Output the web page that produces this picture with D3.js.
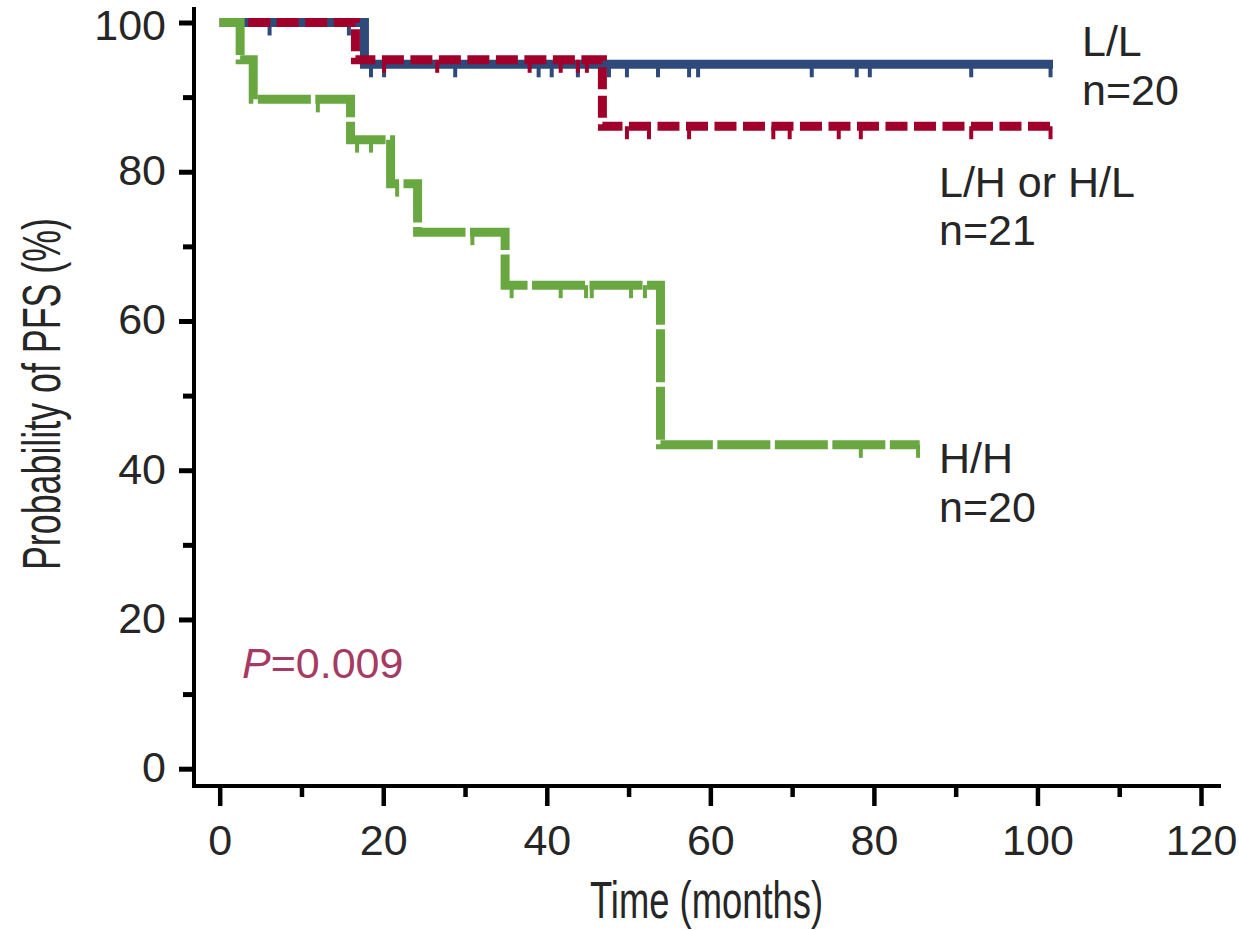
<!DOCTYPE html>
<html><head><meta charset="utf-8">
<script src="https://cdn.jsdelivr.net/npm/d3@7"></script>
<style>body{margin:0;background:#fff}svg{display:block}</style>
</head><body>
<script>
// ---- data ----
const xTicks = [0, 20, 40, 60, 80, 100, 120];
const xMinorTicks = [10, 30, 50, 70, 90, 110];
const yTicks = [0, 20, 40, 60, 80, 100];
const yMinorTicks = [10, 30, 50, 70, 90];

const seriesNames = ["L/L", "L/H or H/L", "H/H"];
const seriesN = ["n=20", "n=21", "n=20"];

// L/L (blue)
const llTimes = [0, 17.7, 101.9];
const llSurv = [100, 94.4, 94.4];
const llCensor = [6.1, 15.8, 18.5, 20.1, 28.8, 39.0, 40.6, 43.8, 47.6, 49.8, 53.6, 57.4, 58.5, 72.4, 77.9, 79.5, 91.9, 101.6];

// L/H or H/L (red)
const mixTimes = [0, 16.6, 46.8, 101.9];
const mixSurv = [100, 95.0, 86.1, 86.1];
const mixCensor = [20.1, 26.6, 37.9, 41.7, 43.8, 44.9, 49.8, 52.5, 57.4, 67.7, 69.7, 75.7, 78.4, 91.9, 101.6];

// H/H (green)
const hhTimes = [0, 2.5, 4.1, 16.0, 20.9, 24.2, 34.9, 53.9, 85.6];
const hhSurv = [100, 95.0, 89.7, 84.3, 78.4, 71.9, 64.8, 43.4, 43.4];
const hhCensor = [12.0, 16.8, 18.5, 21.7, 30.9, 35.7, 41.7, 44.8, 45.5, 50.3, 52.0, 78.4, 85.4];

const pValue = "0.009";
const xTitle = "Time (months)";
const yTitle = "Probability of PFS (%)";

// ---- drawing ----
const W = 1239, H = 930;
const FONT = "'Liberation Sans', Arial, Helvetica, sans-serif";
const TEXT = "#262626";
const svg = d3.select("body").append("svg").attr("width", W).attr("height", H)
  .style("background", "#fff");

const x = d3.scaleLinear().domain([0, 120]).range([219.7, 1201]);
const y = d3.scaleLinear().domain([0, 100]).range([768.7, 22.5]);

const axisX = 786, axisY = 194;

// y axis
const gy = svg.append("g").attr("transform", `translate(${axisY},0)`);
gy.call(d3.axisLeft(y).tickValues(yTicks).tickSize(15).tickPadding(13).tickSizeOuter(0));
gy.select(".domain").remove();
gy.selectAll(".tick line").attr("stroke", "#000").attr("stroke-width", 5);
gy.selectAll(".tick text").attr("font-size", 43).attr("font-family", FONT)
  .attr("fill", TEXT).attr("dy", d => d === 100 ? "0.4em" : "0.3em");
const gym = svg.append("g").attr("transform", `translate(${axisY},0)`);
gym.call(d3.axisLeft(y).tickValues(yMinorTicks).tickSize(11).tickFormat("").tickSizeOuter(0));
gym.select(".domain").remove();
gym.selectAll(".tick line").attr("stroke", "#000").attr("stroke-width", 5);

// x axis
const gx = svg.append("g").attr("transform", `translate(0,${axisX})`);
gx.call(d3.axisBottom(x).tickValues(xTicks).tickSize(20).tickSizeOuter(0));
gx.select(".domain").remove();
gx.selectAll(".tick line").attr("stroke", "#000").attr("stroke-width", 4.5);
gx.selectAll(".tick text").attr("font-size", 43).attr("font-family", FONT)
  .attr("fill", TEXT).attr("y", 69).attr("dy", 0);
const gxm = svg.append("g").attr("transform", `translate(0,${axisX})`);
gxm.call(d3.axisBottom(x).tickValues(xMinorTicks).tickSize(11).tickFormat("").tickSizeOuter(0));
gxm.select(".domain").remove();
gxm.selectAll(".tick line").attr("stroke", "#000").attr("stroke-width", 4.5);

// axis lines
svg.append("line").attr("x1", axisY).attr("x2", axisY).attr("y1", 7).attr("y2", axisX + 2)
  .attr("stroke", "#000").attr("stroke-width", 4);
svg.append("line").attr("x1", axisY - 2).attr("x2", 1221).attr("y1", axisX).attr("y2", axisX)
  .attr("stroke", "#000").attr("stroke-width", 4);

// titles
svg.append("text").attr("x", 706.5).attr("y", 918).attr("text-anchor", "middle")
  .attr("font-family", FONT).attr("font-size", 52).attr("fill", TEXT)
  .attr("textLength", 233).attr("lengthAdjust", "spacingAndGlyphs").text(xTitle);
svg.append("text").attr("transform", "translate(60,394) rotate(-90)").attr("text-anchor", "middle")
  .attr("font-family", FONT).attr("font-size", 54).attr("fill", TEXT)
  .attr("textLength", 352).attr("lengthAdjust", "spacingAndGlyphs").text(yTitle);

// KM curves
const series = [
  { times: llTimes, surv: llSurv, censor: llCensor, color: "#2e4a7b", dash: null },
  { times: mixTimes, surv: mixSurv, censor: mixCensor, color: "#a1002b", dash: "22,6.5" },
  { times: hhTimes, surv: hhSurv, censor: hhCensor, color: "#69a841", dash: "53,4.5" }
];
const line = d3.line().x(d => x(d[0])).y(d => y(d[1])).curve(d3.curveStepAfter);
function survAt(times, surv, t) {
  let s = surv[0];
  for (let i = 0; i < times.length; i++) if (times[i] <= t) s = surv[i];
  return s;
}
series.forEach(s => {
  const pts = s.times.map((t, i) => [t, s.surv[i]]);
  const g = svg.append("g");
  g.append("path").attr("d", line(pts)).attr("fill", "none")
    .attr("stroke", s.color).attr("stroke-width", 9)
    .attr("stroke-dasharray", s.dash).attr("stroke-linecap", "butt");
  g.selectAll("line.c").data(s.censor).enter().append("line")
    .attr("x1", d => x(d)).attr("x2", d => x(d))
    .attr("y1", d => y(survAt(s.times, s.surv, d)))
    .attr("y2", d => y(survAt(s.times, s.surv, d)) + 13)
    .attr("stroke", s.color).attr("stroke-width", 4);
});

// labels
const labelPos = [[1082, 56, 105], [939, 197, 245], [939, 473, 522]];
labelPos.forEach((p, i) => {
  svg.append("text").attr("x", p[0]).attr("y", p[1]).attr("font-family", FONT)
    .attr("font-size", 43).attr("fill", TEXT).text(seriesNames[i]);
  svg.append("text").attr("x", p[0]).attr("y", p[2]).attr("font-family", FONT)
    .attr("font-size", 43).attr("fill", TEXT).text(seriesN[i]);
});

// P value
const pt = svg.append("text").attr("x", 242).attr("y", 678).attr("font-family", FONT)
  .attr("font-size", 43).attr("fill", "#a63a62");
pt.append("tspan").attr("font-style", "italic").text("P");
pt.append("tspan").text("=" + pValue);
</script>
</body></html>
